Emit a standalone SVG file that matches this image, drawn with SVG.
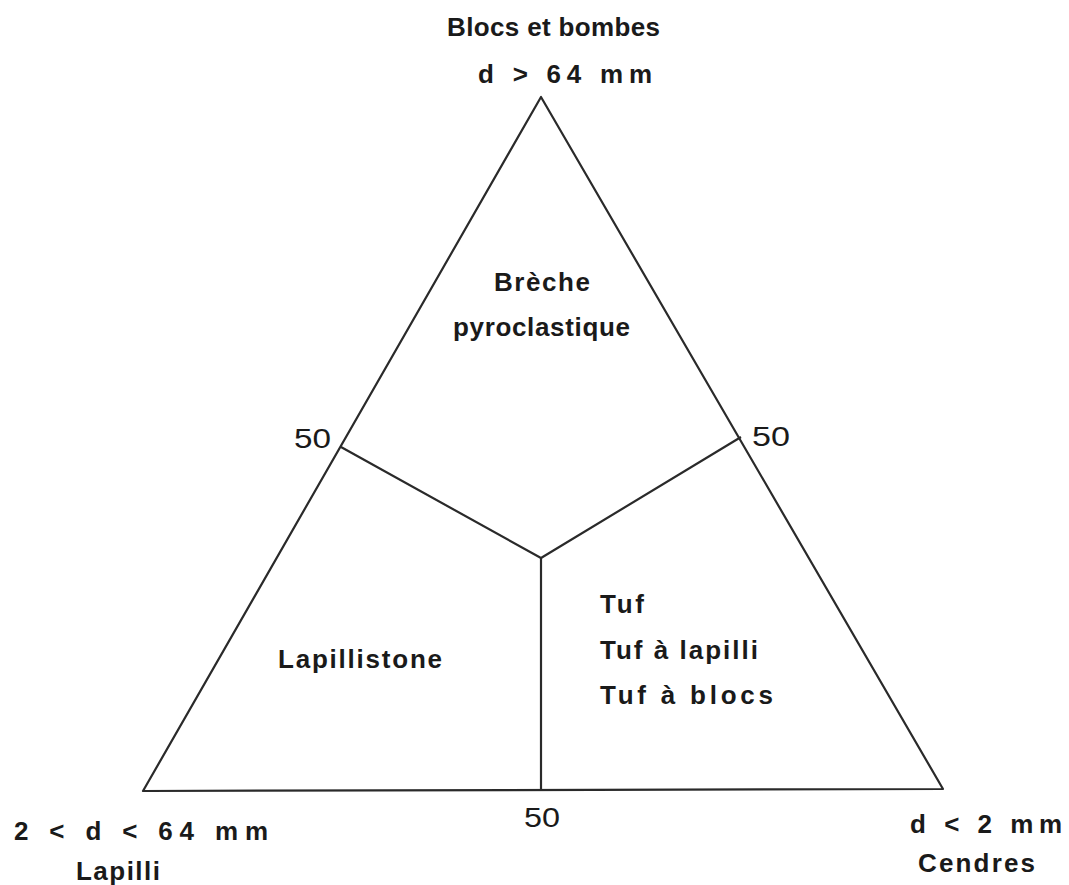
<svg xmlns="http://www.w3.org/2000/svg" width="1069" height="885" viewBox="0 0 1069 885">
<style>
.t{font-family:"Liberation Sans",Arial,sans-serif;font-weight:bold;font-size:26px;fill:#1a1a1a}
.n{font-family:"Liberation Sans",Arial,sans-serif;font-size:27px;fill:#1a1a1a}
.ln{stroke:#2a2a2a;stroke-width:2.2;fill:none;stroke-linejoin:round}
</style>
<rect width="1069" height="885" fill="#ffffff"/>
<g id="triangle"><polygon class="ln" points="541,97 143,791 943,789"/></g>
<g id="connectors">
<polyline class="ln" points="341,447 541,558 741,437"/>
<line class="ln" x1="541" y1="558" x2="541" y2="790"/>
</g>
<g id="apex-label">
<text class="t" x="447" y="36" textLength="213" lengthAdjust="spacing" font-size="25">Blocs et bombes</text>
<text class="t" x="478" y="83" textLength="174" lengthAdjust="spacing" font-size="26">d &gt; 64 mm</text>
</g>
<g id="breche">
<text class="t" x="494" y="291" textLength="96" lengthAdjust="spacing" font-size="24">Brèche</text>
<text class="t" x="453" y="336" textLength="177" lengthAdjust="spacing" font-size="24">pyroclastique</text>
</g>
<g id="lapillistone"><text class="t" x="278" y="668" textLength="164" lengthAdjust="spacing" font-size="24">Lapillistone</text></g>
<g id="tuf">
<text class="t" x="600" y="613" textLength="44" lengthAdjust="spacing" font-size="25">Tuf</text>
<text class="t" x="600" y="659" textLength="158" lengthAdjust="spacing" font-size="25">Tuf à lapilli</text>
<text class="t" x="600" y="704" textLength="173" lengthAdjust="spacing" font-size="25">Tuf à blocs</text>
</g>
<g id="ticks">
<text class="n" x="294" y="448" textLength="37" lengthAdjust="spacingAndGlyphs">50</text>
<text class="n" x="752" y="446" textLength="38" lengthAdjust="spacingAndGlyphs">50</text>
<text class="n" x="524" y="827" textLength="36" lengthAdjust="spacingAndGlyphs">50</text>
</g>
<g id="lapilli-label">
<text class="t" x="14" y="840" textLength="254" lengthAdjust="spacing" font-size="28">2 &lt; d &lt; 64 mm</text>
<text class="t" x="76" y="880" textLength="84" lengthAdjust="spacing" font-size="26">Lapilli</text>
</g>
<g id="cendres-label">
<text class="t" x="910" y="833" textLength="152" lengthAdjust="spacing" font-size="27">d &lt; 2 mm</text>
<text class="t" x="918" y="872" textLength="117" lengthAdjust="spacing" font-size="26">Cendres</text>
</g>
</svg>
